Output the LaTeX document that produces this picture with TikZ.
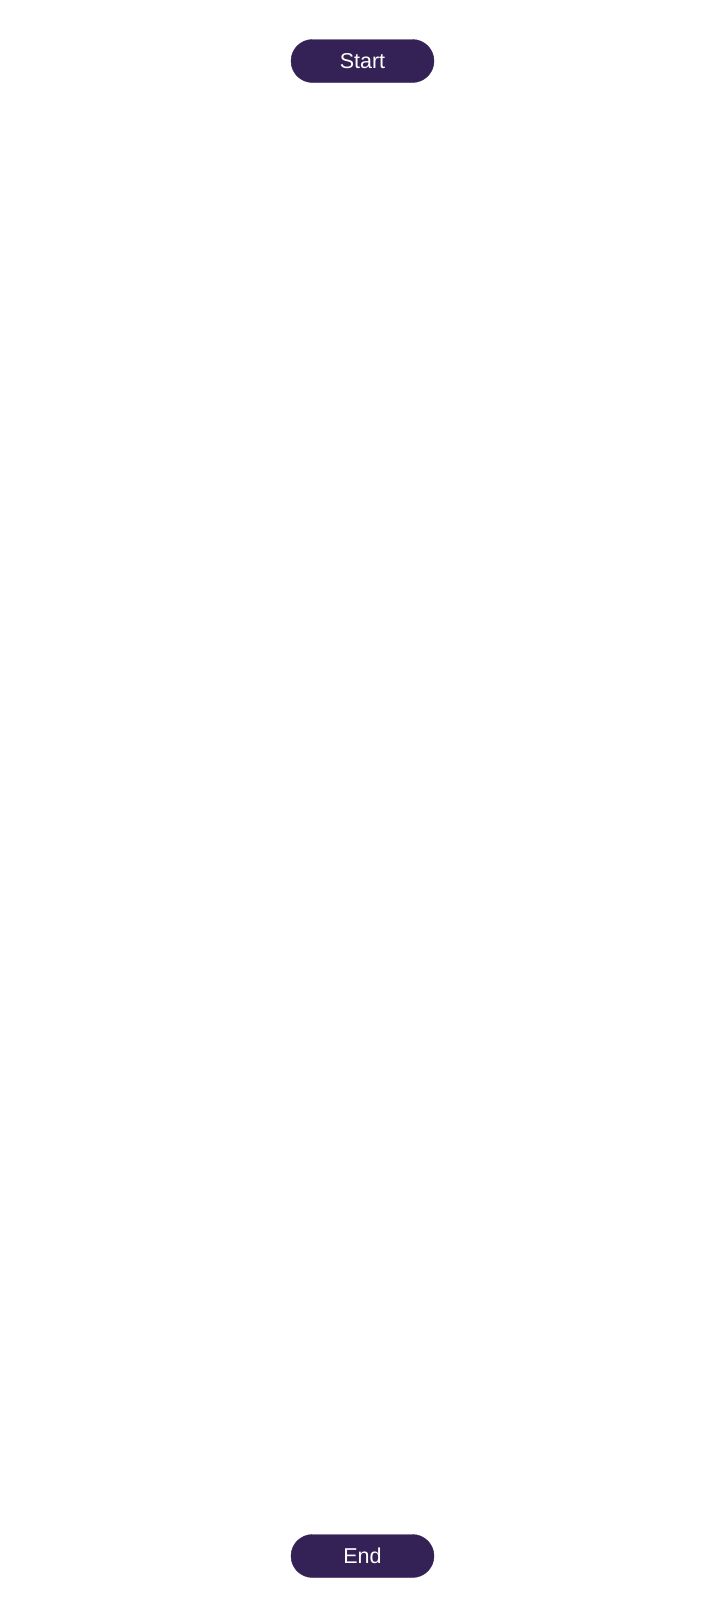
\documentclass[tikz,border=0pt]{standalone}
\usepackage{fontspec}
\setmainfont{Liberation Sans}
\definecolor{termfill}{RGB}{52,34,86}
\begin{document}
\begin{tikzpicture}[x=1pt,y=-1pt,
  term/.style={draw=termfill,fill=termfill,text=white,rounded corners=21.5pt,
    minimum width=143pt,minimum height=43pt,inner sep=0pt,
    font=\fontsize{21.5}{25}\selectfont}]
\useasboundingbox[fill=white] (0,0) rectangle (725,1618);
\node[term] (start) at (362.5,61) {Start};
\node[term] (end) at (362.5,1556) {End};
\end{tikzpicture}
\end{document}
